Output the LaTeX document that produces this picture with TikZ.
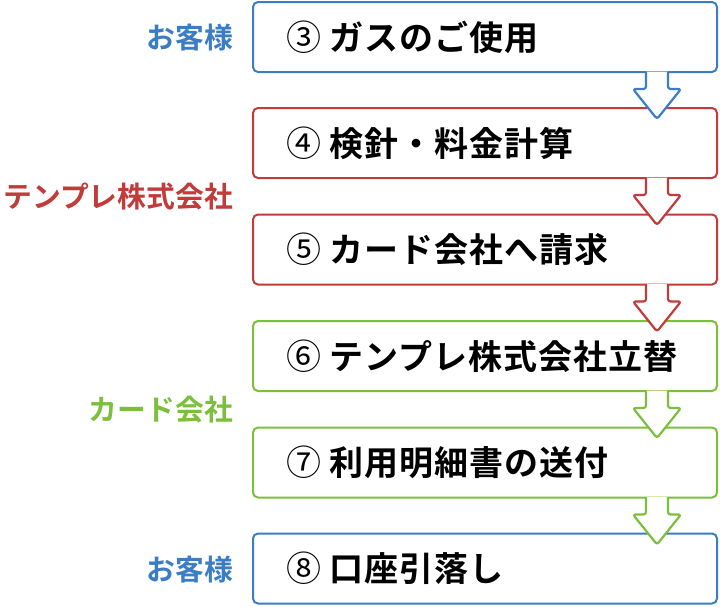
\documentclass[tikz,border=0pt]{standalone}
\usepackage{fontspec}
\setmainfont{Noto Sans CJK JP}[BoldFont={Noto Sans CJK JP Bold}]
\newfontfamily\circfont{Noto Sans CJK JP}
\definecolor{cb}{HTML}{3B7DC4}
\definecolor{cr}{HTML}{C23B3B}
\definecolor{cg}{HTML}{7BBF3C}
\tikzset{
  stepbox/.style={draw, line width=2pt, rounded corners=5pt, minimum width=464pt, minimum height=70pt, inner sep=0pt, fill=white},
  steptext/.style={anchor=west, inner sep=0pt, font=\fontsize{34}{40}\selectfont\bfseries\addfontfeature{LetterSpace=3}},
  grplabel/.style={anchor=east, inner sep=0pt, font=\fontsize{28.8}{34}\selectfont\bfseries},
  flowarrow/.style={fill=white, line width=2.2pt, rounded corners=2.5pt, line join=round}
}
\newcommand\circd[1]{{\circfont\mdseries\fontsize{35}{40}\selectfont #1}\hspace{0.25em}}
\newcommand\downarrowfrom[2]{%
  \path (#1.south -| 657,0) coordinate (#1arr);
  \filldraw[flowarrow, draw=#2] (#1arr) ++(-11,-1.5) -- ++(0,17.5) -- ++(-13,0) -- ++(24,30) -- ++(24,-30) -- ++(-13,0) -- ++(0,-17.5);
}
\begin{document}
\begin{tikzpicture}[x=1pt,y=-1pt]
\useasboundingbox (0,0) rectangle (720,606);
\node[stepbox, draw=cb] (b1) at (485,37) {};
\node[stepbox, draw=cr] (b2) at (485,143) {};
\node[stepbox, draw=cr] (b3) at (485,249.5) {};
\node[stepbox, draw=cg] (b4) at (485,356) {};
\node[stepbox, draw=cg] (b5) at (485,462.5) {};
\node[stepbox, draw=cb] (b6) at (485,568.5) {};
\downarrowfrom{b1}{cb}
\downarrowfrom{b2}{cr}
\downarrowfrom{b3}{cr}
\downarrowfrom{b4}{cg}
\downarrowfrom{b5}{cg}
\node[steptext] (t1) at ([xshift=34pt]b1.west) {\circd{③}ガスのご使用};
\node[steptext] (t2) at ([xshift=34pt]b2.west) {\circd{④}検針・料金計算};
\node[steptext] (t3) at ([xshift=34pt]b3.west) {\circd{⑤}カード会社へ請求};
\node[steptext] (t4) at ([xshift=34pt]b4.west) {\circd{⑥}テンプレ株式会社立替};
\node[steptext] (t5) at ([xshift=34pt]b5.west) {\circd{⑦}利用明細書の送付};
\node[steptext] (t6) at ([xshift=34pt]b6.west) {\circd{⑧}口座引落し};
\node[grplabel, text=cb] (l1) at (233,38) {お客様};
\node[grplabel, text=cr] (l2) at (233,197) {テンプレ株式会社};
\node[grplabel, text=cg] (l3) at (233,410) {カード会社};
\node[grplabel, text=cb] (l4) at (233,570) {お客様};
\end{tikzpicture}
\end{document}
